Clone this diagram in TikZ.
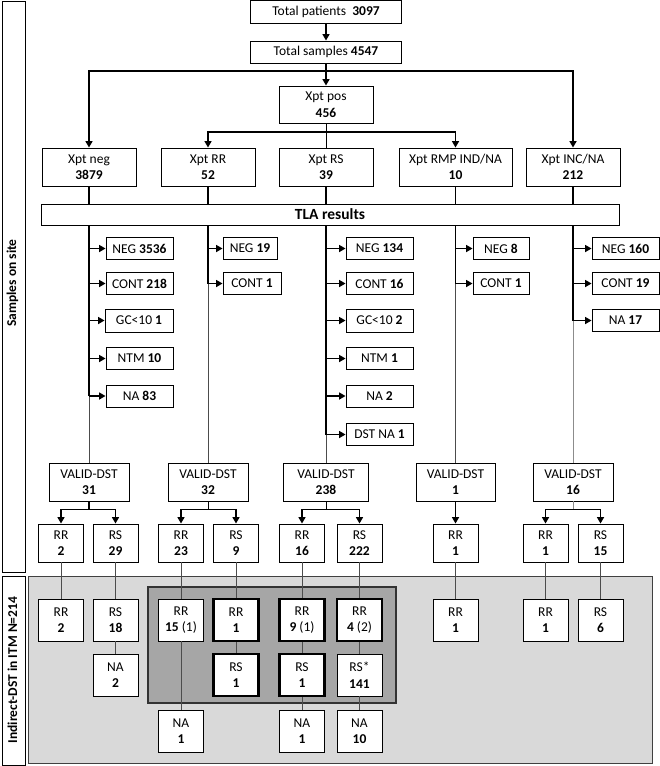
\documentclass[tikz,border=0pt]{standalone}
\usepackage{fontspec}
\setmainfont{Carlito}
\usetikzlibrary{arrows.meta}
\tikzset{
  box/.style={draw=black, line width=0.9pt, fill=white, inner sep=0pt, align=center, font=\fontsize{13.5}{16.5}\selectfont},
  tbox/.style={box, line width=2.3pt},
  sz/.style 2 args={minimum width=#1pt, minimum height=#2pt},
  con/.style={line width=1.6pt, draw=black},
  arr/.style={con, -{Triangle[length=6.5pt,width=7pt]}},
  thinl/.style={line width=0.75pt, draw=black!70},
  lab/.style={rotate=90, font=\fontsize{13.5}{16}\selectfont\bfseries},
}
\begin{document}
\begin{tikzpicture}[x=1pt,y=-1pt]
\useasboundingbox (0,0) rectangle (660,766);
% side strips
\draw[line width=0.9pt] (2,1) rectangle (25,572);
\node[lab] (lab1) at (12.5,283) {Samples on site};
\draw[line width=0.9pt] (2,576) rectangle (25,765);
\node[lab] (lab2) at (12.5,670) {Indirect-DST in ITM N=214};
% backgrounds
\filldraw[fill=black!15, draw=black!75, line width=0.9pt] (28,576) rectangle (652,763);
\filldraw[fill=black!35, draw=black!80, line width=2.2pt] (148,587) rectangle (396,703);

% top
\node[box, sz={151}{23}] (tp) at (326,12) {Total patients\ \ \textbf{3097}};
\node[box, sz={151}{22}] (ts) at (326,52) {Total samples \textbf{4547}};
\node[box, sz={94}{37}] (pos) at (326,104.5) {Xpt pos\\\textbf{456}};
\node[box, sz={94}{38}] (neg) at (89,167) {Xpt neg\\\textbf{3879}};
\node[box, sz={94}{38}] (xrr) at (208,167) {Xpt RR\\\textbf{52}};
\node[box, sz={94}{38}] (xrs) at (326,167) {Xpt RS\\\textbf{39}};
\node[box, sz={113}{38}] (rmp) at (455.5,167) {Xpt RMP IND/NA\\\textbf{10}};
\node[box, sz={94}{38}] (inc) at (573,167) {Xpt INC/NA\\\textbf{212}};
\node[box, sz={578}{21}, font=\fontsize{15.5}{18}\selectfont\bfseries] (tla) at (330,214.5) {TLA results};

% TLA result boxes
\node[box, sz={67}{22}] (a1) at (139.5,248.5) {NEG \textbf{3536}};
\node[box, sz={67}{22}] (a2) at (139.5,283.5) {CONT \textbf{218}};
\node[box, sz={68}{23}] (a3) at (139,320.5) {GC<10 \textbf{1}};
\node[box, sz={67}{22}] (a4) at (139.5,358.5) {NTM \textbf{10}};
\node[box, sz={67}{22}] (a5) at (139.5,396) {NA \textbf{83}};
\node[box, sz={54}{22}] (b1) at (250,248.5) {NEG \textbf{19}};
\node[box, sz={58}{22}] (b2) at (252,283.5) {CONT \textbf{1}};
\node[box, sz={67}{22}] (c1) at (379.5,248.5) {NEG \textbf{134}};
\node[box, sz={67}{22}] (c2) at (379.5,283.5) {CONT \textbf{16}};
\node[box, sz={67}{23}] (c3) at (379.5,320.5) {GC<10 \textbf{2}};
\node[box, sz={67}{22}] (c4) at (379.5,358.5) {NTM \textbf{1}};
\node[box, sz={67}{22}] (c5) at (379.5,396) {NA \textbf{2}};
\node[box, sz={67}{22}] (c6) at (379.5,434.5) {DST NA \textbf{1}};
\node[box, sz={56}{22}] (d1) at (501,248.5) {NEG \textbf{8}};
\node[box, sz={56}{22}] (d2) at (501,283.5) {CONT \textbf{1}};
\node[box, sz={67}{22}] (e1) at (625.5,248.5) {NEG \textbf{160}};
\node[box, sz={67}{22}] (e2) at (625.5,283.5) {CONT \textbf{19}};
\node[box, sz={67}{22}] (e3) at (625.5,320.5) {NA \textbf{17}};

% VALID-DST
\node[box, sz={80}{38}] (v1) at (89,482) {VALID-DST\\\textbf{31}};
\node[box, sz={80}{38}] (v2) at (208,482) {VALID-DST\\\textbf{32}};
\node[box, sz={85}{38}] (v3) at (326,482) {VALID-DST\\\textbf{238}};
\node[box, sz={79}{38}] (v4) at (455.5,482) {VALID-DST\\\textbf{1}};
\node[box, sz={80}{38}] (v5) at (573,482) {VALID-DST\\\textbf{16}};

% level 1
\node[box, sz={45}{38}] (rr1) at (61,543) {RR\\\textbf{2}};
\node[box, sz={45}{38}] (rs1) at (115.5,543) {RS\\\textbf{29}};
\node[box, sz={45}{38}] (rr2) at (181,543) {RR\\\textbf{23}};
\node[box, sz={45}{38}] (rs2) at (236,543) {RS\\\textbf{9}};
\node[box, sz={45}{38}] (rr3) at (302,543) {RR\\\textbf{16}};
\node[box, sz={45}{38}] (rs3) at (359.5,543) {RS\\\textbf{222}};
\node[box, sz={45}{38}] (rr4) at (455.5,543) {RR\\\textbf{1}};
\node[box, sz={45}{38}] (rr5) at (545.5,543) {RR\\\textbf{1}};
\node[box, sz={45}{38}] (rs5) at (600.5,543) {RS\\\textbf{15}};

% indirect DST
\node[box, sz={45}{42}] (brr1) at (61,620) {RR\\\textbf{2}};
\node[box, sz={45}{42}] (brs1) at (115.5,620) {RS\\\textbf{18}};
\node[box, sz={45}{42}] (bna1) at (115.5,675) {NA\\\textbf{2}};
\node[box, sz={45}{42}] (brr2) at (181,620) {RR\\\textbf{15} (1)};
\node[box, sz={45}{42}] (bna2) at (181,731) {NA\\\textbf{1}};
\node[tbox, sz={45}{42}] (brr2b) at (236,620) {RR\\\textbf{1}};
\node[tbox, sz={45}{42}] (brs2) at (236,675) {RS\\\textbf{1}};
\node[tbox, sz={45}{42}] (brr3) at (302,620) {RR\\\textbf{9} (1)};
\node[tbox, sz={45}{42}] (brs3) at (302,675) {RS\\\textbf{1}};
\node[box, sz={45}{42}] (bna3) at (302,731) {NA\\\textbf{1}};
\node[tbox, sz={45}{42}] (brr3b) at (359.5,620) {RR\\\textbf{4} (2)};
\node[box, sz={45}{42}] (brs3b) at (359.5,675) {RS*\\\textbf{141}};
\node[box, sz={45}{42}] (bna3b) at (359.5,731) {NA\\\textbf{10}};
\node[box, sz={45}{42}] (brr4) at (455.5,620) {RR\\\textbf{1}};
\node[box, sz={45}{42}] (brr5) at (545.5,620) {RR\\\textbf{1}};
\node[box, sz={45}{42}] (brs5) at (600.5,620) {RS\\\textbf{6}};

% ---- connectors ----
\coordinate (h1) at (326,71);
\coordinate (h2) at (326,132);
\draw[arr] (tp) -- (ts);
\draw[arr] (ts) -- (pos);
\draw[arr] (h1) -| (neg.north);
\draw[arr] (h1) -| (inc.north);
\draw[line width=0.9pt] (pos) -- (xrs);
\draw[arr] (h2) -| (xrr.north);
\draw[arr] (h2) -| (rmp.north);
\foreach \n in {neg,xrr,xrs,rmp,inc}{\draw[con] (\n.south) -- (\n.south |- tla.north);}

% column 1
\draw[con] (tla.south -| v1.north) -- (a5.west -| v1.north);
\draw[thinl] (a5.west -| v1.north) -- (v1.north);
\foreach \n in {a1,a2,a3,a4,a5}{\draw[arr] (\n.west -| v1.north) -- (\n.west);}
% column 2
\draw[con] (tla.south -| v2.north) -- (b2.west -| v2.north);
\draw[thinl] (b2.west -| v2.north) -- (v2.north);
\foreach \n in {b1,b2}{\draw[arr] (\n.west -| v2.north) -- (\n.west);}
% column 3
\draw[con] (tla.south -| v3.north) -- (c6.west -| v3.north);
\draw[thinl] (c6.west -| v3.north) -- (v3.north);
\foreach \n in {c1,c2,c3,c4,c5,c6}{\draw[arr] (\n.west -| v3.north) -- (\n.west);}
% column 4
\draw[con] (tla.south -| v4.north) -- (d2.west -| v4.north);
\draw[thinl] (d2.west -| v4.north) -- (v4.north);
\foreach \n in {d1,d2}{\draw[arr] (\n.west -| v4.north) -- (\n.west);}
% column 5
\draw[con] (tla.south -| v5.north) -- (e3.west -| v5.north);
\draw[thinl, draw=black!45] (e3.west -| v5.north) -- (v5.north);
\foreach \n in {e1,e2,e3}{\draw[arr] (\n.west -| v5.north) -- (\n.west);}

% VALID-DST branches
\draw[con] (v1.south) -- ++(0,8) coordinate (k1);
\draw[arr] (k1) -| (rr1.north);
\draw[arr] (k1) -| (rs1.north);
\draw[thinl, draw=black] (v2.south) -- ++(0,8) coordinate (k2);
\draw[arr] (k2) -| (rr2.north);
\draw[arr] (k2) -| (rs2.north);
\draw[thinl, draw=black] (v3.south) -- ++(0,8) coordinate (k3);
\draw[arr] (k3) -| (rr3.north);
\draw[arr] (k3) -| (rs3.north);
\draw[arr] (v4) -- (rr4);
\draw[thinl, draw=black!45] (v5.south) -- ++(0,8) coordinate (k5);
\draw[arr] (k5) -| (rr5.north);
\draw[arr] (k5) -| (rs5.north);

% indirect connectors
\draw[thinl] (rr1) -- (brr1);
\draw[thinl] (rs1) -- (brs1);
\draw[thinl] (brs1) -- (bna1);
\draw[thinl] (rr2) -- (brr2);
\draw[thinl] (brr2) -- (bna2);
\draw[thinl] (rs2) -- (brr2b);
\draw[thinl] (brr2b) -- (brs2);
\draw[thinl] (rr3) -- (brr3);
\draw[thinl] (brr3) -- (brs3);
\draw[thinl] (brs3) -- (bna3);
\draw[thinl] (rs3) -- (brr3b);
\draw[thinl] (brr3b) -- (brs3b);
\draw[thinl] (brs3b) -- (bna3b);
\draw[thinl] (rr4) -- (brr4);
\draw[thinl] (rr5) -- (brr5);
\draw[thinl] (rs5) -- (brs5);
\end{tikzpicture}
\end{document}
